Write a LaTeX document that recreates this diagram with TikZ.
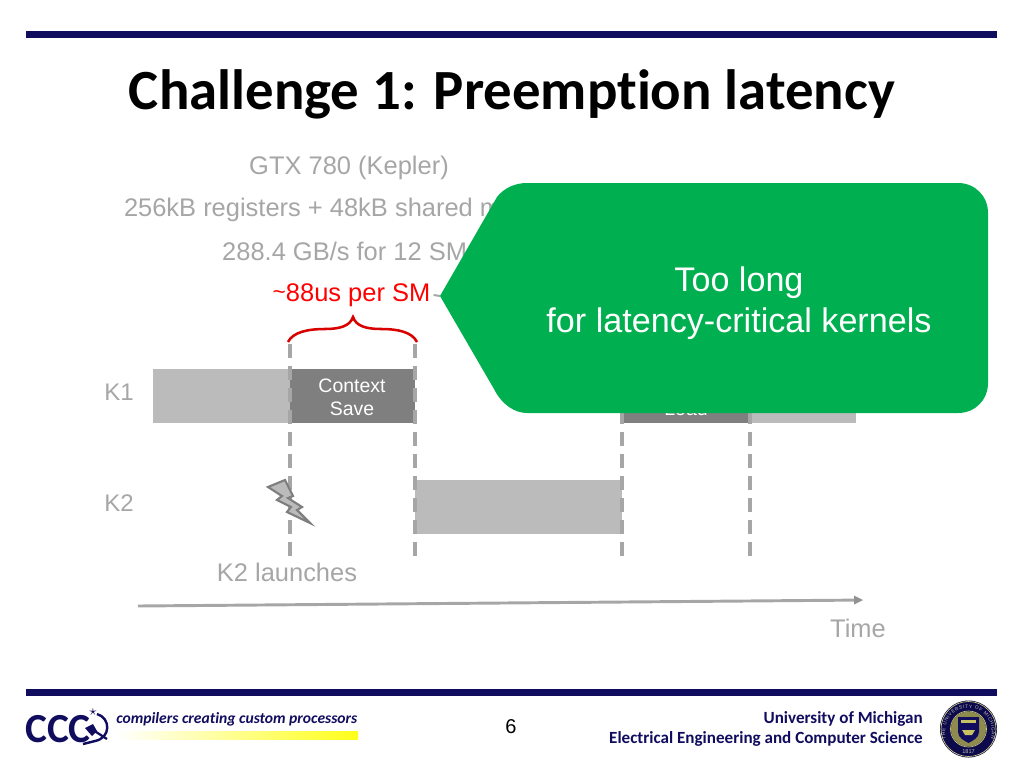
\documentclass[tikz,border=0pt]{standalone}
\usepackage{fontspec}
\setmainfont{Liberation Sans}
\newfontfamily\calibri[Ligatures=NoCommon]{Carlito}
\usepackage{xcolor}
\usetikzlibrary{positioning, calc, shadings, decorations.text}
\definecolor{navy}{HTML}{100C5E}
\definecolor{lgray}{HTML}{A6A6A6}
\definecolor{boxlight}{HTML}{BBBBBB}
\definecolor{boxdark}{HTML}{7F7F7F}
\definecolor{callout}{HTML}{00B050}

\begin{document}
\begin{tikzpicture}[x=0.75pt, y=-0.75pt,
  txt/.style={inner sep=0pt, text=lgray, font=\fontsize{19.1}{23}\selectfont},
  lane/.style={inner sep=0pt, text=lgray, font=\fontsize{18}{22}\selectfont},
  bar/.style={fill=navy, draw=none},
  light/.style={fill=boxlight, draw=none},
  dark/.style={fill=boxdark, draw=none},
  cut/.style={lgray, line width=2.4pt, dash pattern=on 10.5pt off 6pt},
  boxtxt/.style={inner sep=0pt, align=center, text=white, font=\fontsize{14.6}{18}\selectfont},
  foot/.style={inner sep=0pt, anchor=east, text=navy, font=\calibri\bfseries\fontsize{12.8}{15}\selectfont}]
\useasboundingbox (0,0) rectangle (1024,768);

% Header and title
\fill[bar] (26,31) rectangle (997,38);
\node[inner sep=0pt, font=\calibri\bfseries\fontsize{42.6}{50}\selectfont] (title) at (512,94) {Challenge 1: Preemption latency};

% GPU figures
\node[txt] (gpu) at (349,168) {GTX 780 (Kepler)};
\node[txt] (regs) at (348,210) {256kB registers + 48kB shared memory};
\node[txt] (rate) at (351,251) {288.4 GB/s for 12 SMs};
\node[inner sep=0pt, text=red, font=\fontsize{19.1}{23}\selectfont] (persm) at (351.5,295) {{\fontsize{17}{23}\selectfont\raisebox{1pt}{\textasciitilde}}88us per SM};

% Kernels
\node[lane] (kone) at (119,392) {K1};
\node[lane] (ktwo) at (119,503) {K2};
\fill[light] (153,369) rectangle (290,423);
\fill[dark] (290,369) rectangle (415,423);
\node[boxtxt] (save) at (352,397) {Context\\[-0.5pt]Save};
\fill[dark] (622,369) rectangle (750,423);
\node[boxtxt] (load) at (686,397) {Context\\[-0.5pt]Load};
\fill[light] (750,369) rectangle (856,423);
\fill[light] (415,480) rectangle (622,534);

% Context switch boundaries
\foreach \name/\x in {a/290,b/415,c/622,d/750} {
  \coordinate (\name top) at (\x,344);
  \coordinate (\name bot) at (\x,558);
  \draw[cut] (\name top) -- (\name bot);
}

% Brace
\draw[red!85!black, line width=1.9pt] (288,342) .. controls (293,332) and (308,329) .. (325,329)
  .. controls (340,329) and (350,326) .. (353,317)
  .. controls (356,326) and (366,329) .. (381,329)
  .. controls (398,329) and (412,332) .. (417,342);

% Preemption bolt
\draw[fill=boxlight, draw=boxdark, line width=1.6pt, line join=miter] (268,487) -- (285,480) -- (293,496) -- (288,498)
  -- (302,507) -- (297,510) -- (310,523) -- (287,512) -- (291,507) -- (277,500) -- (282,496) -- cycle;
\node[txt] (launch) at (287,572.5) {K2 launches};

% Time axis
\coordinate (tstart) at (138,606);
\coordinate (tend) at (863,600);
\draw[lgray, line width=2.2pt] (tstart) -- (855,600.1);
\fill[boxdark!85] (tend) -- (854,595.5) -- (854,604.5) -- cycle;
\node[txt] (time) at (858,628.5) {Time};

% Callout
\coordinate (tip) at (440,296);
\draw[lgray, line width=1.5pt] (persm.east) ++(3,0) -- (tip);
\fill[callout] (tip) -- (497,197) .. controls (504,188) and (515,183) .. (527,183)
  -- (958,183) .. controls (975,183) and (988,196) .. (988,213)
  -- (988,383) .. controls (988,400) and (975,413) .. (958,413)
  -- (527,413) .. controls (515,413) and (502,405) .. (494,389) -- cycle;
\node[inner sep=0pt, align=center, text=white, font=\fontsize{25.6}{30.8}\selectfont] (toolong) at (739,303) {Too long\\for latency-critical kernels};

% Footer
\fill[bar] (26,689) rectangle (997,696);
\node[inner sep=0pt, font=\fontsize{15}{18}\selectfont] (page) at (511,727) {6};
\node[foot] (univ) at (923,718.5) {University of Michigan};
\node[foot] (dept) at (923,738.5) {Electrical Engineering and Computer Science};

% CCC logo
\node[inner sep=0pt, anchor=west, text=navy, font=\calibri\bfseries\fontsize{31}{34}\selectfont] (ccc) at (25,729) {CCC};
\draw[navy, line width=1.8pt] (97,714) .. controls (111,718) and (111,738) .. (95,741) .. controls (91,742) and (87,743) .. (83,744);
\fill[navy] (85,728) -- (93,724) -- (97,731) -- (92,736) -- cycle;
\draw[navy, line width=1.7pt] (93,730) -- (107,739);
\node[inner sep=0pt, text=navy, font=\fontsize{11}{11}\selectfont] (star) at (93,712) {$\star$};
\shade[left color=white, right color=yellow!90!white] (117,731) rectangle (358,739);
\node[inner sep=0pt, anchor=west, text=navy, font=\calibri\bfseries\itshape\fontsize{11.7}{15}\selectfont] (ccp) at (116,719) {compilers creating custom processors};

% Seal
\fill[navy!80!black] (968.5,729) circle (28.5);
\draw[boxlight!70!yellow, line width=0.5pt] (968.5,729) circle (27.5);
\draw[boxlight!70!yellow, line width=0.5pt] (968.5,729) circle (18);
\fill[olive!45!gray] (968.5,729) circle (17.5);
\path[decorate, decoration={text along path, text align=fit to path, text color=boxlight,
  text={|\fontsize{3.6}{5}\selectfont|THE UNIVERSITY OF MICHIGAN}}]
  (946,739) .. controls (938,698) and (999,698) .. (991,739);
\node[inner sep=0pt, text=boxlight, font=\fontsize{4.2}{5}\selectfont] (year) at (968.5,751.5) {1817};
\fill[navy] (958,717) -- (979,717) -- (979,732) .. controls (979,738) and (972,741) .. (968.5,743)
  .. controls (965,741) and (958,738) .. (958,732) -- cycle;
\fill[olive!50!white] (961,720) rectangle (976,723);
\fill[olive!50!white] (962,730) -- (975,730) -- (972,735) -- (965,735) -- cycle;
\end{tikzpicture}
\end{document}
